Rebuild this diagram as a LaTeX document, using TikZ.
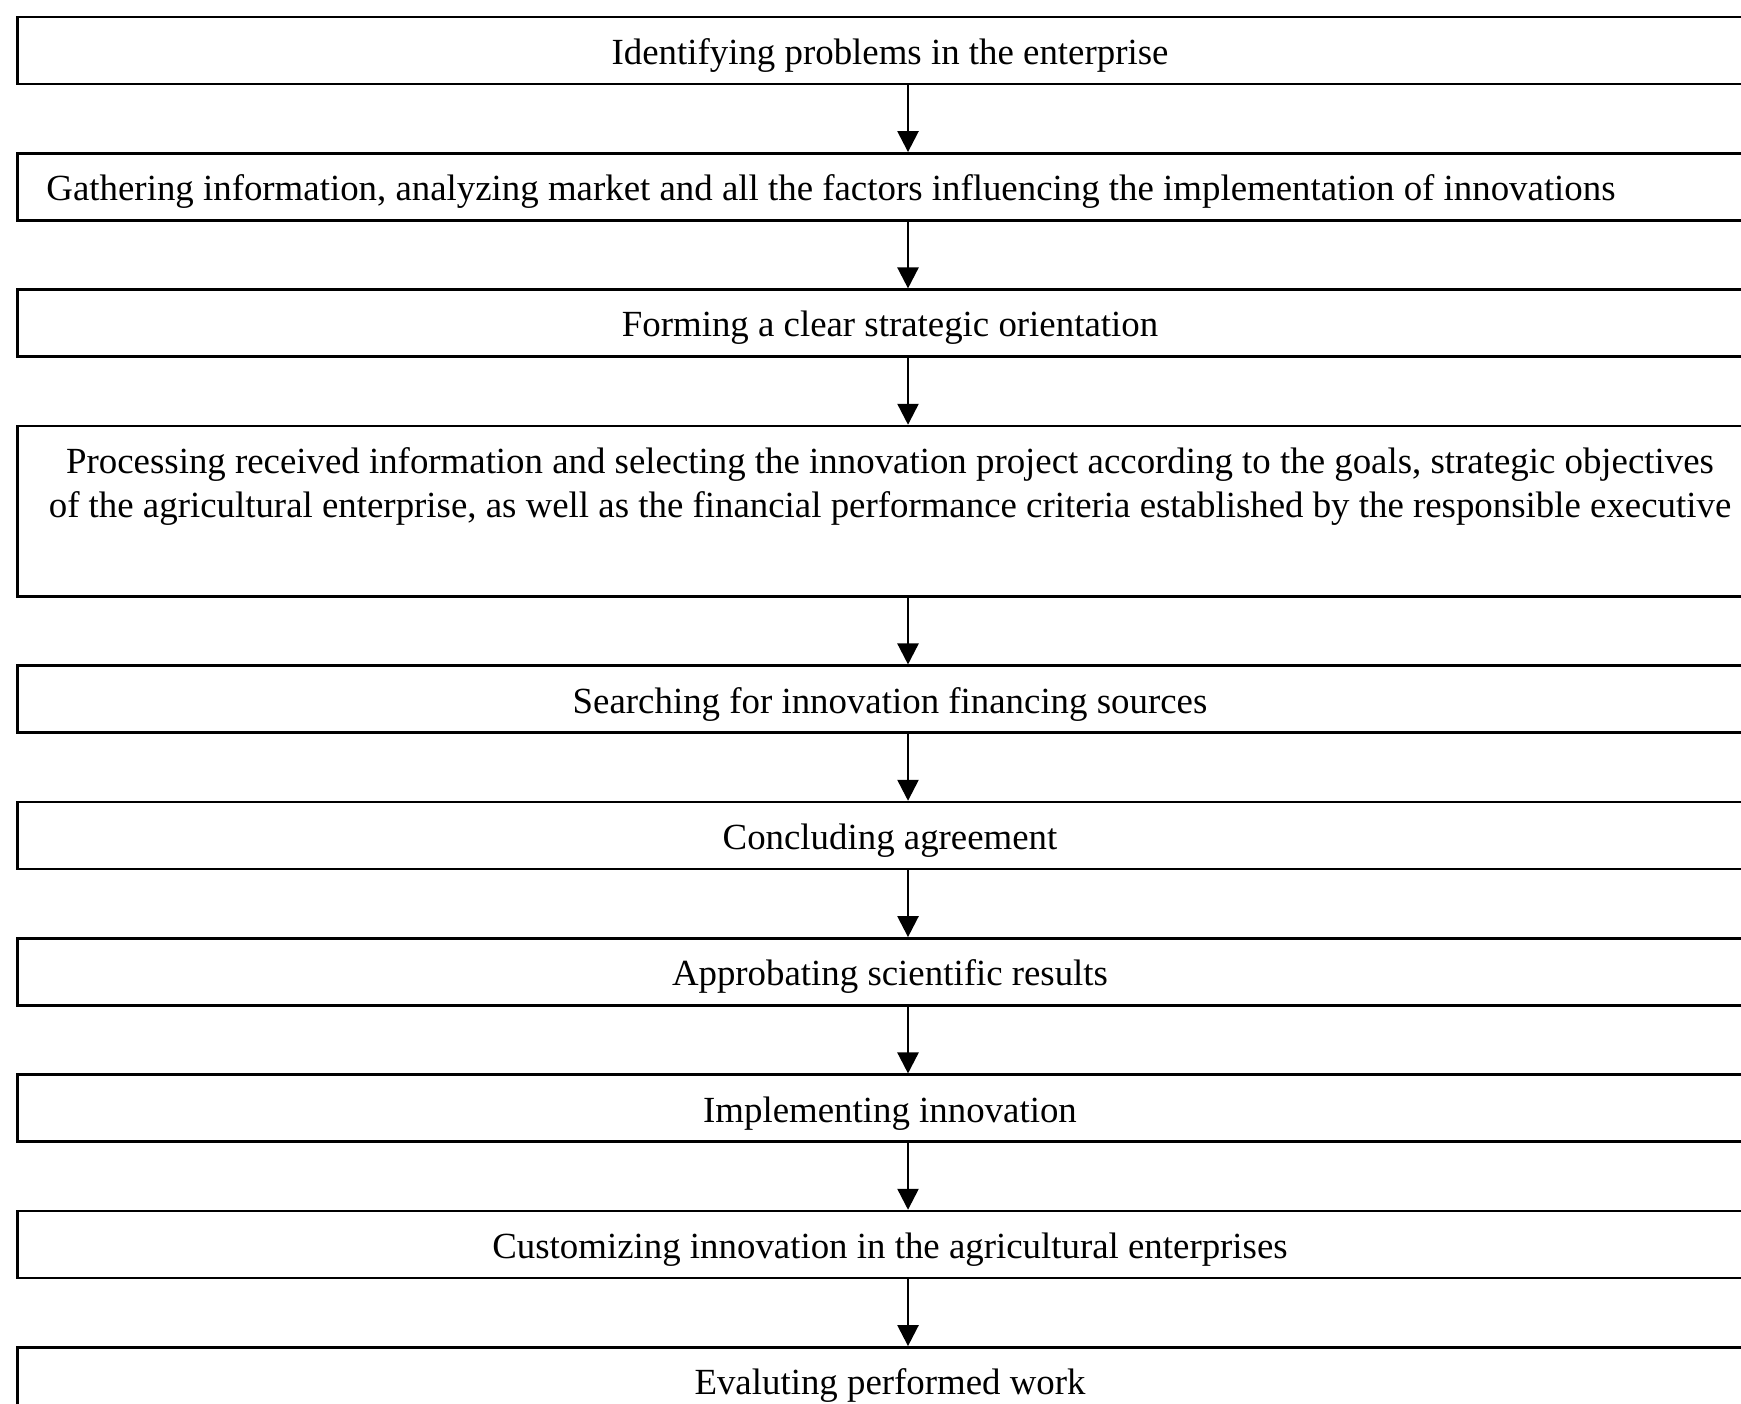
\documentclass[tikz,border=0pt]{standalone}
\usepackage{fontspec}
\setmainfont{Liberation Serif}
\usetikzlibrary{positioning,arrows.meta}

\begin{document}
\begin{tikzpicture}[x=0.01145cm, y=-0.01145cm,
  stepbox/.style={draw, line width=0.8pt, minimum width=19.97cm, minimum height=0.767cm,
    inner sep=2pt, text height=11pt, text depth=2pt, align=center,
    font=\fontsize{12}{14.1}\selectfont},
  flow/.style={line width=0.8pt, -{Triangle[length=0.24cm,width=0.24cm]}},
  node distance=0.765cm]
  \useasboundingbox (0,0) rectangle (1741,1403);
  % Steps
  \node[stepbox] (prob) at (890,50.5) {Identifying problems in the enterprise};
  \node[stepbox, below=of prob, text width=19.306cm, inner xsep=0.332cm, align=flush left] (info) {Gathering information, analyzing market and all the factors influencing the implementation of innovations};
  \node[stepbox, below=of info] (orient) {Forming a clear strategic orientation};
  \node[stepbox, below=of orient, minimum height=1.95cm, text depth=7.2pt] (select) {Processing received information and selecting the innovation project according to the goals, strategic objectives\\
    of the agricultural enterprise, as well as the financial performance criteria established by the responsible executive};
  \node[stepbox, below=of select] (finance) {Searching for innovation financing sources};
  \node[stepbox, below=of finance] (agree) {Concluding agreement};
  \node[stepbox, below=of agree] (approb) {Approbating scientific results};
  \node[stepbox, below=of approb] (implem) {Implementing innovation};
  \node[stepbox, below=of implem] (custom) {Customizing innovation in the agricultural enterprises};
  \node[stepbox, below=of custom] (eval) {Evaluting performed work};
  % Arrows between steps
  \draw[flow] ([xshift=0.206cm]prob.south) -- ([xshift=0.206cm]info.north);
  \draw[flow] ([xshift=0.206cm]info.south) -- ([xshift=0.206cm]orient.north);
  \draw[flow] ([xshift=0.206cm]orient.south) -- ([xshift=0.206cm]select.north);
  \draw[flow] ([xshift=0.206cm]select.south) -- ([xshift=0.206cm]finance.north);
  \draw[flow] ([xshift=0.206cm]finance.south) -- ([xshift=0.206cm]agree.north);
  \draw[flow] ([xshift=0.206cm]agree.south) -- ([xshift=0.206cm]approb.north);
  \draw[flow] ([xshift=0.206cm]approb.south) -- ([xshift=0.206cm]implem.north);
  \draw[flow] ([xshift=0.206cm]implem.south) -- ([xshift=0.206cm]custom.north);
  \draw[flow] ([xshift=0.206cm]custom.south) -- ([xshift=0.206cm]eval.north);
\end{tikzpicture}
\end{document}
